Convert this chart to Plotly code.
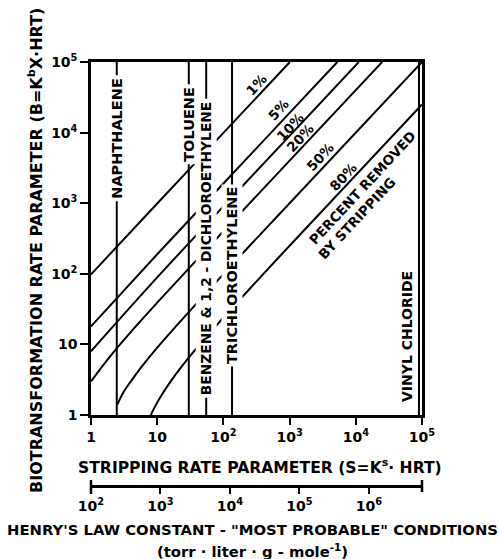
import plotly.graph_objects as go
import math

# ---------------- data ----------------
S_tickvals = [1, 10, 100, 1000, 10000, 100000]
S_ticktext = ["1", "10", "10<sup>2</sup>", "10<sup>3</sup>", "10<sup>4</sup>", "10<sup>5</sup>"]
B_tickvals = [1, 10, 100, 1000, 10000, 100000]
B_ticktext = ["1", "10", "10<sup>2</sup>", "10<sup>3</sup>", "10<sup>4</sup>", "10<sup>5</sup>"]
H_tickvals = [1e2, 1e3, 1e4, 1e5, 1e6]
H_ticktext = ["10<sup>2</sup>", "10<sup>3</sup>", "10<sup>4</sup>", "10<sup>5</sup>", "10<sup>6</sup>"]

pct_labels = ["1%", "5%", "10%", "20%", "50%", "80%"]
pct_S = [
    [1, 10, 100, 1010],
    [1, 10, 100, 1000, 5260],
    [1, 10, 100, 1000, 11100],
    [1, 2, 5, 10, 100, 1000, 25000],
    [2.5, 3, 4, 6, 10, 100, 1000, 100000],
    [8, 9, 10, 12, 16, 24, 40, 100, 1000, 100000],
]
pct_B = [
    [98, 990, 9900, 100000],
    [18, 189, 1900, 19000, 100000],
    [8, 89, 900, 9000, 100000],
    [3, 7, 19, 39, 400, 4000, 100000],
    [1.4, 2, 3, 5, 9, 99, 1000, 100000],
    [1, 1.25, 1.5, 2, 3, 5, 9, 24, 250, 25000],
]

compounds = ["NAPHTHALENE", "TOLUENE", "BENZENE &amp; 1,2 - DICHLOROETHYLENE",
             "TRICHLOROETHYLENE", "VINYL CHLORIDE"]
compound_S = [2.45, 30, 55, 135, 90000]
compound_B = [1, 100000]

# ---------------- geometry helpers (pixels -> axis/paper) ----------------
W, H = 501, 559
L, R, T, Bm = 91, 79, 62, 30
PW = W - L - R
PH = H - T - Bm
y_bottom_px = 415
y_dom0 = (H - Bm - y_bottom_px) / PH
def py2paper(py):
    return (H - Bm - py) / PH
def px2paper(px):
    return (px - L) / PW
def px2logx(px):
    return (px - L) / (PW / 5)
def py2logy(py):
    return (y_bottom_px - py) / ((y_bottom_px - T) / 5)

FONT = "DejaVu Sans"
def fnt(size):
    return dict(family=FONT, size=size, color="black", weight="bold")

fig = go.Figure()

for lab, xs, ys in zip(pct_labels, pct_S, pct_B):
    fig.add_trace(go.Scatter(x=xs, y=ys, mode="lines", line=dict(color="black", width=2),
                             showlegend=False, hoverinfo="skip", line_shape="spline"))

for name, s in zip(compounds, compound_S):
    fig.add_trace(go.Scatter(x=[s, s], y=compound_B, mode="lines",
                             line=dict(color="black", width=2),
                             showlegend=False, hoverinfo="skip"))

# dummy trace for the Henry's-law axis
fig.add_trace(go.Scatter(x=[1e3], y=[10], xaxis="x2", yaxis="y", mode="markers",
                         marker=dict(opacity=0), showlegend=False, hoverinfo="skip"))

ann = []
# percent labels
pct_pos = [(256, 85), (278, 110), (290, 127), (300, 138), (320, 157), (343, 177)]
for lab, (px, py) in zip(pct_labels, pct_pos):
    ann.append(dict(x=px2logx(px), y=py2logy(py), xref="x", yref="y", text=lab,
                    showarrow=False, textangle=-47, xanchor="center", yanchor="middle",
                    font=fnt(13.5)))
ann.append(dict(x=px2logx(362), y=py2logy(188), xref="x", yref="y", text="PERCENT REMOVED",
                showarrow=False, textangle=-47, xanchor="center", yanchor="middle",
                font=fnt(13.5)))
ann.append(dict(x=px2logx(357), y=py2logy(218), xref="x", yref="y", text="BY STRIPPING",
                showarrow=False, textangle=-47, xanchor="center", yanchor="middle",
                font=fnt(13.5)))

# compound labels
comp_label_y = [138, 124, 248, 276, 337]
comp_label_x = [None, None, None, None, 407]
comp_size = [14.5, 14.5, 13.8, 14.5, 14]
for name, s, cy, cx, fs in zip(compounds, compound_S, comp_label_y, comp_label_x, comp_size):
    xv = math.log10(s) if cx is None else px2logx(cx)
    ann.append(dict(x=xv, y=py2logy(cy), xref="x", yref="y", text=name,
                    showarrow=False, textangle=-90, bgcolor="white", borderpad=2,
                    xanchor="center", yanchor="middle", font=fnt(fs)))

# axis titles
ann.append(dict(x=px2paper(36), y=py2paper(251), xref="paper", yref="paper",
                text="BIOTRANSFORMATION RATE PARAMETER (B=K<sup>b</sup>X·HRT)",
                showarrow=False, textangle=-90, xanchor="center", yanchor="middle",
                font=fnt(16)))
ann.append(dict(x=px2paper(260), y=py2paper(466), xref="paper", yref="paper",
                text="STRIPPING RATE PARAMETER (S=K<sup>s</sup>· HRT)",
                showarrow=False, xanchor="center", yanchor="middle",
                font=fnt(15.6)))
ann.append(dict(x=px2paper(252), y=py2paper(529), xref="paper", yref="paper",
                text="HENRY'S LAW CONSTANT - \"MOST PROBABLE\" CONDITIONS",
                showarrow=False, xanchor="center", yanchor="middle",
                font=fnt(14.8)))
ann.append(dict(x=px2paper(252), y=py2paper(550), xref="paper", yref="paper",
                text="(torr · liter · g - mole<sup>-1</sup>)",
                showarrow=False, xanchor="center", yanchor="middle",
                font=fnt(14.8)))

henry_pos = py2paper(486)
shapes = [
    dict(type="line", xref="paper", yref="paper", x0=0, x1=0,
         y0=py2paper(480), y1=py2paper(494), line=dict(color="black", width=2.5)),
    dict(type="line", xref="paper", yref="paper", x0=1, x1=1,
         y0=py2paper(480), y1=py2paper(492), line=dict(color="black", width=2.5)),
]

tickfont = fnt(14)
fig.update_layout(
    width=W, height=H,
    margin=dict(l=L, r=R, t=T, b=Bm),
    paper_bgcolor="white", plot_bgcolor="white",
    showlegend=False,
    annotations=ann,
    shapes=shapes,
    xaxis=dict(type="log", range=[0, 5], showgrid=False, zeroline=False,
               showline=True, linecolor="black", linewidth=2.5, mirror=True,
               ticks="outside", ticklen=7, tickwidth=2, tickcolor="black",
               tickvals=S_tickvals, ticktext=S_ticktext, tickfont=tickfont,
               anchor="y"),
    yaxis=dict(type="log", range=[0, 5], domain=[y_dom0, 1], showgrid=False, zeroline=False,
               showline=True, linecolor="black", linewidth=2.5, mirror=True,
               ticks="outside", ticklen=8, tickwidth=2, tickcolor="black",
               tickvals=B_tickvals, ticktext=B_ticktext, tickfont=tickfont),
    xaxis2=dict(type="log", range=[2, 6.765], overlaying="x", anchor="free",
                position=henry_pos, side="bottom", showgrid=False, zeroline=False,
                showline=True, linecolor="black", linewidth=2.5,
                ticks="outside", ticklen=6, tickwidth=2, tickcolor="black",
                tickvals=H_tickvals, ticktext=H_ticktext, tickfont=tickfont),
)

fig.write_html("out.html")
